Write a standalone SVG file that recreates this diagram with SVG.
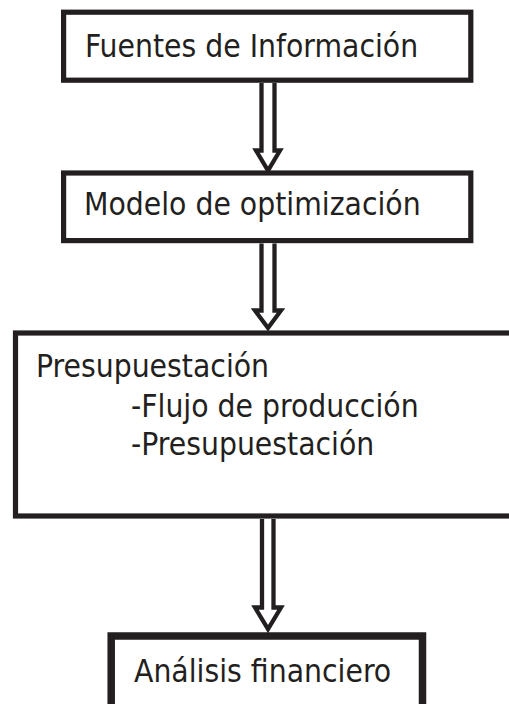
<svg xmlns="http://www.w3.org/2000/svg" width="509" height="704" viewBox="0 0 509 704">
<style>
.box{fill:#fff;stroke:#231f20;stroke-width:5.2}
.box4{fill:#fff;stroke:#231f20;stroke-width:7.5}
.arr{fill:#fff;stroke:#231f20;stroke-width:4.3;stroke-linejoin:miter;stroke-miterlimit:10}
text{font-family:"DejaVu Sans Condensed","DejaVu Sans",sans-serif;font-stretch:condensed;font-size:31.5px;fill:#231f20}
</style>
<rect width="509" height="704" fill="#fff"/>
<g id="n1">
<rect class="box" x="63.6" y="12.2" width="407.2" height="68"/>
<text x="85" y="57">Fuentes de Información</text>
</g>
<g id="n2">
<rect class="box" x="63.6" y="173" width="407.2" height="67.6"/>
<text x="84" y="215">Modelo de optimización</text>
</g>
<g id="n3">
<rect class="box" x="15.5" y="333" width="520" height="183"/>
<text x="36" y="377">Presupuestación</text>
<text x="131" y="417">-Flujo de producción</text>
<text x="131" y="455">-Presupuestación</text>
</g>
<g id="n4">
<rect class="box4" x="111.2" y="636" width="311.3" height="100"/>
<text x="134" y="682">Análisis financiero</text>
</g>
<g id="connectors">
<path class="arr" d="M261.5,83 V150.5 H256 L268,170.5 L280,150.5 H274.5 V83"/>
<path class="arr" d="M261.5,243.5 V310.5 H255 L268,328 L281,310.5 H274.5 V243.5"/>
<path class="arr" d="M262,519 V607.5 H255 L268,629 L281,607.5 H273.5 V519"/>
</g>
</svg>
